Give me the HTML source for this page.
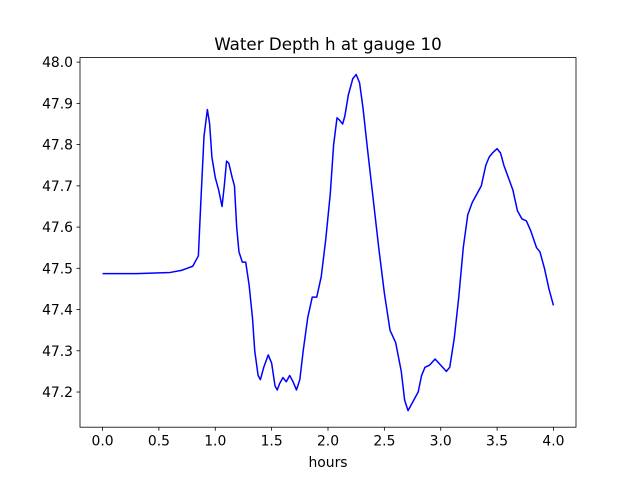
<!DOCTYPE html>
<html><head><meta charset="utf-8"><style>
body{margin:0;background:#fff}
svg{display:block;font-family:"DejaVu Sans","Liberation Sans",sans-serif}
</style></head><body>
<svg id="chart" width="640" height="480" viewBox="0 0 640 480">
<rect width="640" height="480" fill="#fff"/>
<text x="328" y="50" font-size="16.7" text-anchor="middle">Water Depth h at gauge 10</text>
<g id="plot"></g>
<rect x="80" y="57.6" width="496" height="369.6" fill="none" stroke="#000" stroke-width="0.8"/>
<text x="328" y="467" font-size="13.9" text-anchor="middle">hours</text>
</svg>
<script>
const hours=[0,0.3,0.6,0.7,0.75,0.8,0.85,0.87,0.9,0.93,0.95,0.97,1.0,1.03,1.06,1.08,1.1,1.12,1.15,1.17,1.19,1.21,1.24,1.27,1.3,1.33,1.35,1.38,1.4,1.43,1.47,1.5,1.53,1.55,1.57,1.6,1.63,1.66,1.69,1.72,1.75,1.78,1.82,1.86,1.9,1.94,1.98,2.02,2.05,2.08,2.1,2.13,2.15,2.18,2.22,2.25,2.28,2.31,2.35,2.4,2.45,2.5,2.55,2.6,2.65,2.68,2.71,2.75,2.8,2.83,2.86,2.9,2.95,3.0,3.05,3.08,3.12,3.16,3.2,3.24,3.28,3.32,3.36,3.4,3.43,3.46,3.5,3.53,3.56,3.6,3.64,3.68,3.72,3.76,3.8,3.85,3.88,3.92,3.96,4.0];
const depth=[47.487,47.487,47.49,47.495,47.5,47.505,47.53,47.65,47.82,47.885,47.85,47.77,47.72,47.69,47.65,47.7,47.76,47.755,47.72,47.7,47.6,47.54,47.515,47.515,47.46,47.38,47.3,47.24,47.23,47.26,47.29,47.27,47.215,47.205,47.22,47.235,47.225,47.24,47.225,47.205,47.23,47.3,47.38,47.43,47.43,47.48,47.57,47.68,47.8,47.865,47.86,47.85,47.87,47.92,47.96,47.97,47.95,47.89,47.79,47.67,47.55,47.44,47.35,47.32,47.25,47.18,47.155,47.175,47.2,47.24,47.26,47.265,47.28,47.265,47.25,47.26,47.33,47.43,47.55,47.63,47.66,47.68,47.7,47.75,47.77,47.78,47.79,47.78,47.75,47.72,47.69,47.64,47.62,47.615,47.59,47.55,47.54,47.5,47.45,47.41];
const xTicks=[0,0.5,1,1.5,2,2.5,3,3.5,4];
const xTickLabels=["0.0","0.5","1.0","1.5","2.0","2.5","3.0","3.5","4.0"];
const yTicks=[47.2,47.3,47.4,47.5,47.6,47.7,47.8,47.9,48.0];
const yTickLabels=["47.2","47.3","47.4","47.5","47.6","47.7","47.8","47.9","48.0"];
const L=80,R=576,T=57.6,B=427.2;
const x0=-0.2,x1=4.2,y0=47.1147,y1=48.011;
const sx=v=>L+(v-x0)/(x1-x0)*(R-L);
const sy=v=>B-(v-y0)/(y1-y0)*(B-T);
const NS="http://www.w3.org/2000/svg";
const g=document.getElementById('plot');
function mk(t,a){const e=document.createElementNS(NS,t);for(const k in a)e.setAttribute(k,a[k]);g.appendChild(e);return e;}
xTicks.forEach((v,i)=>{
 const t=mk('line',{x1:sx(v),x2:sx(v),y1:B,y2:B+3.5,stroke:'#000','stroke-width':0.8});
 
 
 const l=mk('text',{x:sx(v),y:B+18.5,'font-size':13.9,'text-anchor':'middle'});
 l.textContent=xTickLabels[i];
 
 
});
yTicks.forEach((v,i)=>{
 const t=mk('line',{x1:L-3.5,x2:L,y1:sy(v),y2:sy(v),stroke:'#000','stroke-width':0.8});
 
 
 const l=mk('text',{x:L-7,y:sy(v)+5,'font-size':13.9,'text-anchor':'end'});
 l.textContent=yTickLabels[i];
 
 
});
const d=hours.map((h,i)=>(i?'L':'M')+sx(h).toFixed(2)+','+sy(depth[i]).toFixed(2)).join('');
const p=mk('path',{d:d,fill:'none',stroke:'#0000ff','stroke-width':1.5,'stroke-linejoin':'round'});


</script>
</body></html>
